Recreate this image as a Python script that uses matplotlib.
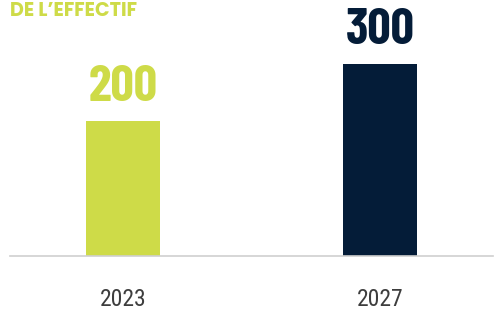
import matplotlib.pyplot as plt
import numpy as np

# Chart data
years = ['2023', '2027']
values = [200, 300]
colors = ['#CEDB48', '#041C38']
title = "DE L\u2019EFFECTIF"

# the bars in the source don't start at zero: value axis floor
floor = -37

fig = plt.figure(figsize=(4.99, 3.10), dpi=100)
ax = fig.add_axes([10 / 499, 1 - 256 / 310, 483 / 499, 256 / 310])

x = np.arange(len(years))
vals = np.array(values)
ax.bar(x, vals - floor, bottom=floor, width=0.29, color=colors)

ax.set_xlim(-0.44, 1.44)
ax.set_ylim(floor, 412)

for xi, v, c in zip(x, vals, colors):
    ax.annotate(str(v), (xi, v), xytext=(0, 14), textcoords='offset points',
                ha='center', va='baseline', fontsize=37, fontweight='bold',
                color=c, family='Barlow Condensed')

ax.set_xticks(x)
ax.set_xticklabels(years, fontsize=17, color='#3D3D3D', family='Roboto Condensed')
ax.tick_params(axis='x', length=0, pad=23)
ax.set_yticks([])

for side in ['top', 'right', 'left']:
    ax.spines[side].set_visible(False)
ax.spines['bottom'].set_color('#CFCFCF')
ax.spines['bottom'].set_linewidth(1.2)

fig.text(10 / 499, 1 - 16 / 310, title, ha='left', va='baseline',
         fontsize=13.8, fontweight='bold', color='#CEDB48',
         family=['Poppins', 'Lato'])

fig.savefig('out.png', dpi=100)
